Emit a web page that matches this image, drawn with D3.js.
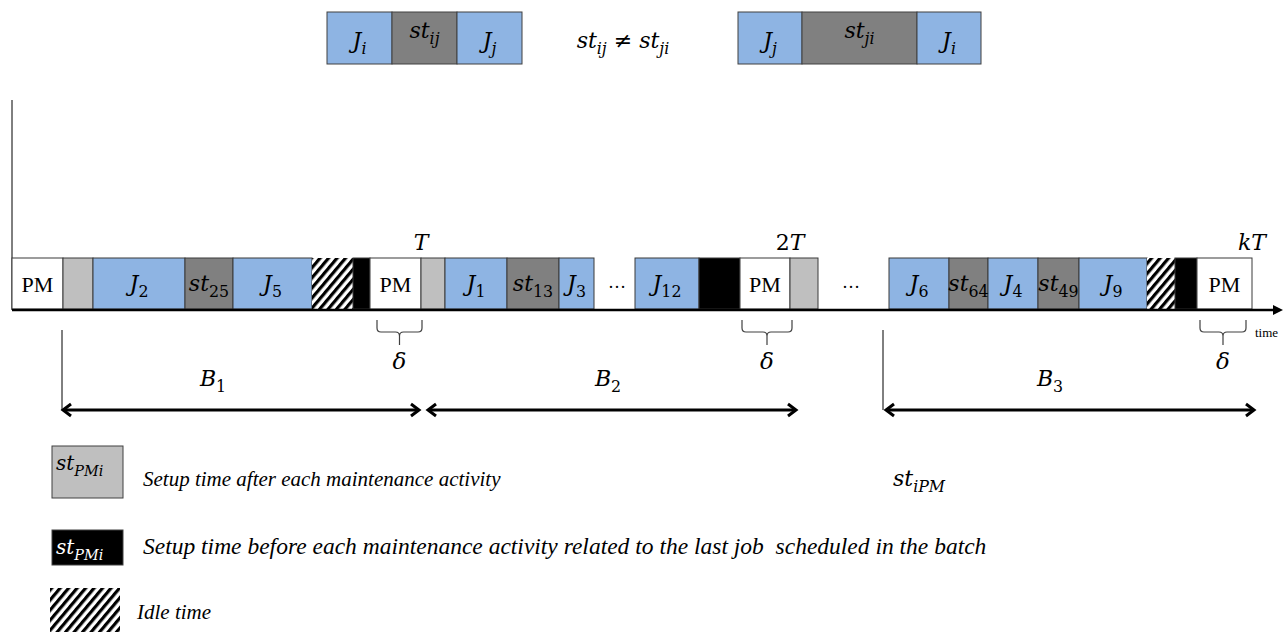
<!DOCTYPE html>
<html><head><meta charset="utf-8">
<script src="https://cdn.jsdelivr.net/npm/d3@7"></script>
<style>body{margin:0;background:#fff}svg{display:block}</style>
</head><body><svg id="c" width="1283" height="633"></svg>
<script>
// ---------- DATA (time units) ----------
const segKinds  = ["pm","after","job","setup","job","idle","before","pm","after","job","setup","job","job","before","pm","after","job","setup","job","setup","job","idle","before","pm"];
const segStarts = [0,5.1,8.1,17.3,22.1,30.0,34.1,35.8,40.9,43.3,49.5,54.7,62.3,68.7,72.8,77.8,87.7,93.7,97.6,102.6,106.7,113.5,116.3,118.5];
const segEnds   = [5.1,8.1,17.3,22.1,30.0,34.1,35.8,40.9,43.3,49.5,54.7,58.2,68.7,72.8,77.8,80.6,93.7,97.6,102.6,106.7,113.5,116.3,118.5,124.0];
const segLabels = ["PM","","J_{2}","st_{25}","J_{5}","","","PM","","J_{1}","st_{13}","J_{3}","J_{12}","","PM","","J_{6}","st_{64}","J_{4}","st_{49}","J_{9}","","","PM"];

const timeEnd = 127.1;
const markLabels = ["T","2T","kT"];
const markAt     = [40.9,77.8,124.0];
const braceFrom  = [36.5,73.0,118.8];
const braceTo    = [41.0,78.0,123.4];
const dotsAt     = [60.5,83.9];

const batchLabels = ["B_{1}","B_{2}","B_{3}"];
const batchFrom   = [5.0,41.5,87.3];
const batchTo     = [40.8,78.5,124.3];
const batchLabelAt= [20.1,59.6,103.8];
const batchTicks  = [5.0,87.1];

// illustration of sequence-dependent setups
const topKinds  = ["job","setup","job","job","setup","job"];
const topStarts = [31.5,38.0,44.5,72.6,79.0,90.5];
const topEnds   = [38.0,44.5,51.0,79.0,90.5,96.9];
const topLabels = ["J_{i}","st_{ij}","J_{j}","J_{j}","st_{ji}","J_{i}"];

const legendKinds  = ["after","before","idle"];
const legendBoxText= ["st_{PMi}","st_{PMi}",""];
const legendTexts  = ["Setup time after each maintenance activity",
                      "Setup time before each maintenance activity related to the last job  scheduled in the batch",
                      "Idle time"];

// ---------- STYLE ----------
const fills = {pm:"#ffffff", after:"#bfbfbf", job:"#8eb4e3", setup:"#808080", before:"#000000", idle:"url(#hatch)"};
const MATH = "'DejaVu Serif', serif";
const TEXT = "'Liberation Serif', 'Times New Roman', serif";

const svg = d3.select("#c");
const x = d3.scaleLinear().domain([0, timeEnd]).range([12, 1283]);

const defs = svg.append("defs");
const pat = defs.append("pattern").attr("id","hatch").attr("patternUnits","userSpaceOnUse")
  .attr("width",6.5).attr("height",6.5).attr("patternTransform","rotate(40)");
pat.append("rect").attr("width",6.5).attr("height",6.5).attr("fill","#fff");
pat.append("rect").attr("width",3.2).attr("height",6.5).attr("fill","#000");

// math text helper: letters italic, digits/symbols upright, _{..} subscripts
function math(parent, str, px, py, size, anchor, color){
  const t = parent.append("text").attr("x",px).attr("y",py)
    .attr("font-family",MATH).attr("font-size",size)
    .attr("text-anchor",anchor||"middle").attr("fill",color||"#000");
  const tokens = [];
  let i=0, buf="";
  while(i<str.length){
    if(str[i]==="_" && str[i+1]==="{"){
      if(buf){tokens.push({s:buf,sub:false});buf="";}
      const j = str.indexOf("}",i);
      tokens.push({s:str.slice(i+2,j),sub:true});
      i=j+1;
    } else { buf+=str[i]; i++; }
  }
  if(buf) tokens.push({s:buf,sub:false});
  const subSize = size*0.72, shift = size*0.28;
  let inSub=false;
  const letter = /[A-Za-z\u03b1-\u03c9]/;
  tokens.forEach(tok=>{
    const runs = tok.s.match(/[A-Za-z\u03b1-\u03c9]+|[^A-Za-z\u03b1-\u03c9]+/g)||[];
    runs.forEach((r,k)=>{
      const sp = t.append("tspan").text(r)
        .attr("font-style", letter.test(r) ? "italic" : "normal")
        .attr("font-size", tok.sub ? subSize : size);
      if(k===0){
        if(tok.sub && !inSub) sp.attr("dy", shift);
        if(!tok.sub && inSub) sp.attr("dy", -shift);
      }
    });
    inSub = tok.sub;
  });
  return t;
}

// ---------- TOP ILLUSTRATION ----------
const topY0 = 12, topY1 = 64;
const topG = svg.append("g");
topG.selectAll("rect").data(topKinds).join("rect")
  .attr("x",(d,i)=>x(topStarts[i])).attr("width",(d,i)=>x(topEnds[i])-x(topStarts[i]))
  .attr("y",topY0).attr("height",topY1-topY0)
  .attr("fill",d=>fills[d]).attr("stroke","#404040").attr("stroke-width",1);
topKinds.forEach((k,i)=>{
  const cx = (x(topStarts[i])+x(topEnds[i]))/2;
  math(topG, topLabels[i], cx, k==="setup"?38:48, 22, "middle");
});
math(svg, "st_{ij} ≠ st_{ji}", 623, 48, 22, "middle");

// ---------- TIMELINE ----------
const boxTop = 258, boxBot = 309, axisY = 310;
svg.append("line").attr("x1",12).attr("x2",12).attr("y1",100).attr("y2",axisY).attr("stroke","#000").attr("stroke-width",1);

const segG = svg.append("g");
segG.selectAll("rect").data(segKinds).join("rect")
  .attr("x",(d,i)=>x(segStarts[i])).attr("width",(d,i)=>x(segEnds[i])-x(segStarts[i]))
  .attr("y",boxTop).attr("height",boxBot-boxTop)
  .attr("fill",d=>fills[d])
  .attr("stroke",d=>d==="idle"?"none":"#3a3a3a").attr("stroke-width",1);
segKinds.forEach((k,i)=>{
  const lab = segLabels[i]; if(!lab) return;
  const cx = (x(segStarts[i])+x(segEnds[i]))/2;
  if(k==="pm"){
    segG.append("text").attr("x",cx).attr("y",292).attr("text-anchor","middle")
      .attr("font-family",TEXT).attr("font-size",22).text(lab);
  } else {
    math(segG, lab, cx, 291, 22, "middle");
  }
});
dotsAt.forEach(d=>{
  svg.append("text").attr("x",x(d)).attr("y",288).attr("text-anchor","middle")
    .attr("font-family",TEXT).attr("font-size",18).text("…");
});
svg.append("line").attr("x1",12).attr("x2",x(timeEnd)-8).attr("y1",axisY).attr("y2",axisY)
  .attr("stroke","#000").attr("stroke-width",2.6);
svg.append("path").attr("d",`M${x(timeEnd)},${axisY} L${x(timeEnd)-10},${axisY-5} L${x(timeEnd)-10},${axisY+5} Z`).attr("fill","#000");
svg.append("text").attr("x",1255).attr("y",337).attr("font-family",TEXT).attr("font-size",13).text("time");

markLabels.forEach((m,i)=>{
  math(svg, m, x(markAt[i]), 250, 22, "middle");
});
braceFrom.forEach((b,i)=>{
  const x0 = x(b), x1 = x(braceTo[i]), xm=(x0+x1)/2;
  const yT=320, yH=332, r=4;
  svg.append("path").attr("d",
    `M${x0},${yT} V${yH-r} Q${x0},${yH} ${x0+r},${yH} H${xm-r} Q${xm},${yH} ${xm},${yH+r} Q${xm},${yH} ${xm+r},${yH} H${x1-r} Q${x1},${yH} ${x1},${yH-r} V${yT} M${xm},${yH+r} V${yH+13}`)
    .attr("fill","none").attr("stroke","#404040").attr("stroke-width",1.2);
  math(svg, "δ", xm, 369, 23, "middle");
});

const arrowY = 410;
batchTicks.forEach(b=>{
  svg.append("line").attr("x1",x(b)).attr("x2",x(b)).attr("y1",330).attr("y2",arrowY).attr("stroke","#000").attr("stroke-width",1);
});
batchLabels.forEach((b,i)=>{
  const x0=x(batchFrom[i]), x1=x(batchTo[i]);
  svg.append("line").attr("x1",x0+1).attr("x2",x1-1).attr("y1",arrowY).attr("y2",arrowY).attr("stroke","#000").attr("stroke-width",3);
  svg.append("path").attr("d",`M${x0+9},${arrowY-6} L${x0+1},${arrowY} L${x0+9},${arrowY+6} M${x1-9},${arrowY-6} L${x1-1},${arrowY} L${x1-9},${arrowY+6}`)
    .attr("fill","none").attr("stroke","#000").attr("stroke-width",3);
  math(svg, b, x(batchLabelAt[i]), 386, 22, "middle");
});

// ---------- LEGEND ----------
const legBoxes = [{y:446,h:52},{y:530,h:35},{y:588,h:44}];
legendKinds.forEach((k,i)=>{
  const bx = k==="idle"?50:52, bw = k==="idle"?70:71;
  svg.append("rect").attr("x",bx).attr("y",legBoxes[i].y).attr("width",bw).attr("height",legBoxes[i].h)
    .attr("fill",fills[k]).attr("stroke",k==="idle"?"none":"#404040").attr("stroke-width",1);
  if(legendBoxText[i]) math(svg, legendBoxText[i], 56, legBoxes[i].y+24, 20, "start", k==="before"?"#fff":"#000");
  const tx = k==="idle"?137:143;
  svg.append("text").attr("x",tx).attr("y",[486,554,619][i])
    .attr("xml:space","preserve").style("white-space","pre")
    .attr("font-family",TEXT).attr("font-style","italic").attr("font-size",i===1?23.5:21).text(legendTexts[i]);
});
math(svg, "st_{iPM}", 893, 486, 22, "start");
</script></body></html>
